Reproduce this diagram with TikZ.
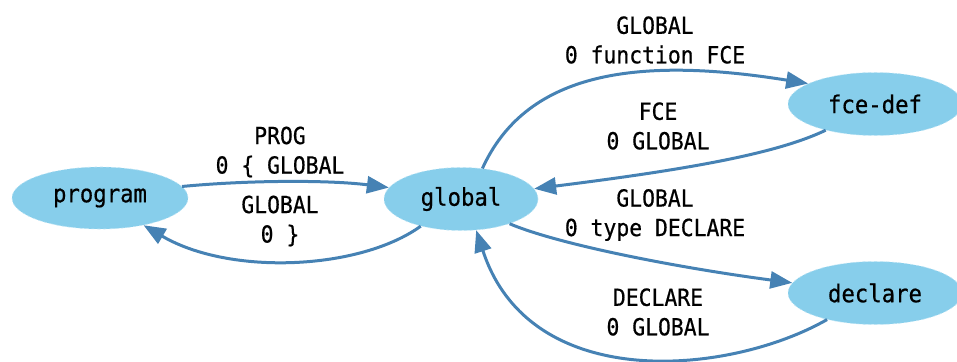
\documentclass[tikz,border=0pt]{standalone}
\usepackage{fontspec}
\setmonofont[FakeStretch=0.91,FakeBold=0.6]{DejaVu Sans Mono}
\usetikzlibrary{shapes.geometric,arrows.meta}
\definecolor{nodefill}{HTML}{87CEEB}
\definecolor{edgecol}{HTML}{4682B4}
\begin{document}
\begin{tikzpicture}[x=1pt,y=-1pt,
  state/.style={ellipse,fill=nodefill,draw=nodefill!55!white,dashed,line width=0.6pt,inner sep=0pt,
    font=\ttfamily\fontsize{24.5}{28}\selectfont},
  edgearrow/.style={draw=edgecol,line width=3pt,-{Triangle[length=22pt,width=17pt,fill=edgecol]}},
  lbl/.style={align=center,font=\ttfamily\fontsize{23.5}{29.5}\selectfont,inner sep=0pt}]
\useasboundingbox (0,0) rectangle (957,361);
\node[state,minimum width=176pt,minimum height=62pt] (program) at (100,198) {program};
\node[state,minimum width=154pt,minimum height=63pt] (global) at (461,199) {global};
\node[state,minimum width=174pt,minimum height=63pt] (fcedef) at (875,104) {fce-def};
\node[state,minimum width=174pt,minimum height=63pt] (declare) at (875,293) {declare};

\draw[edgearrow] (program.8) .. controls (250,180) and (330,180) .. (global.171);
\draw[edgearrow] (global.214) .. controls (360,270) and (230,276) .. (program.328);
\draw[edgearrow] (global.55) .. controls (525,75) and (630,55) .. (fcedef.163);
\draw[edgearrow] (fcedef.208) .. controls (780,152) and (700,168) .. (global.8);
\draw[edgearrow] (global.333) .. controls (560,245) and (680,268) .. (declare.173);
\draw[edgearrow] (declare.209) .. controls (730,375) and (530,395) .. (global.296);

\node[lbl] (l1) at (280,152) {PROG\\0 \{ GLOBAL};
\node[lbl] (l2) at (280,221) {GLOBAL\\0 \}};
\node[lbl] (l3) at (655,40) {GLOBAL\\0 function FCE};
\node[lbl] (l4) at (658,126) {FCE\\0 GLOBAL};
\node[lbl] (l5) at (655,215) {GLOBAL\\0 type DECLARE};
\node[lbl] (l6) at (658,312) {DECLARE\\0 GLOBAL};
\end{tikzpicture}
\end{document}
